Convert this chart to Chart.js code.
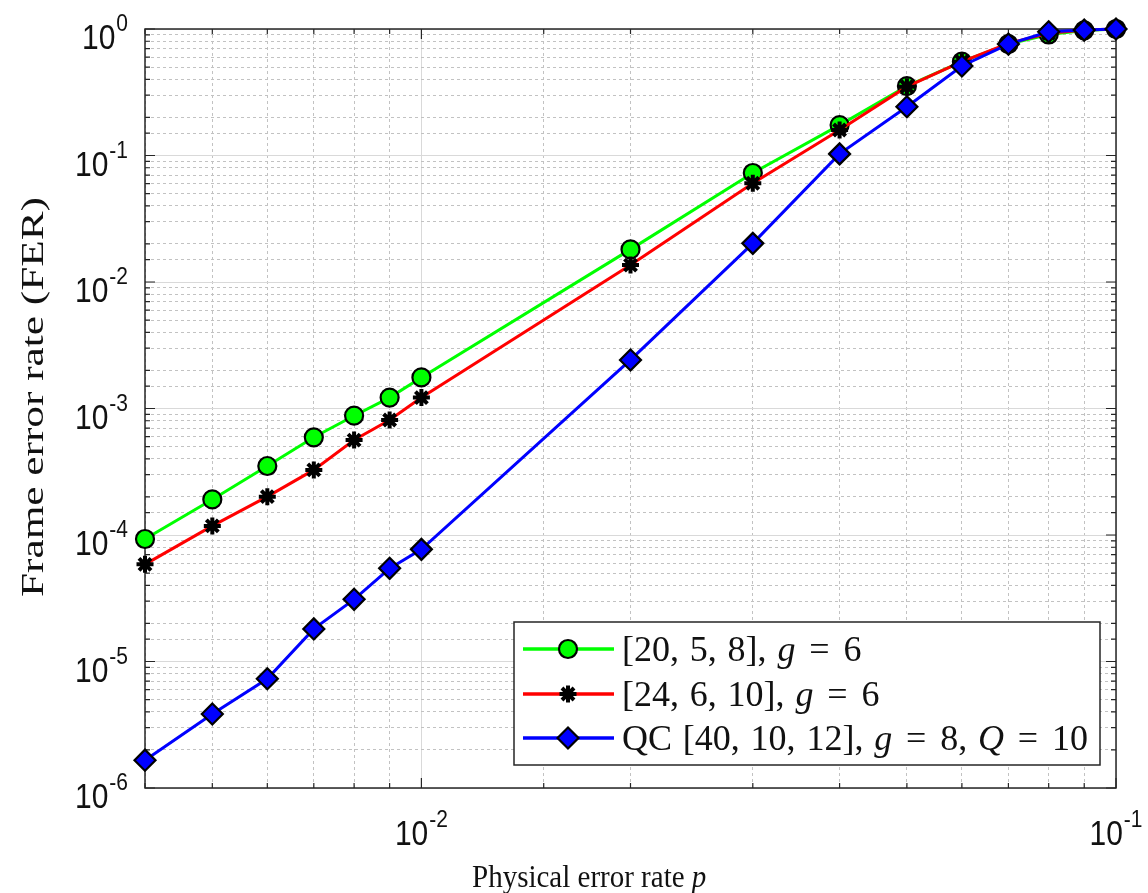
<!DOCTYPE html>
<html>
<head>
<meta charset="utf-8">
<script src="https://cdn.jsdelivr.net/npm/chart.js@4.4.1/dist/chart.umd.min.js"></script>
<style>
html,body{margin:0;padding:0;background:#fff;overflow:hidden}
canvas{display:block}
</style>
</head>
<body>
<canvas id="c" width="1148" height="893"></canvas>
<script>
// ---- data ----
const errorRates = [0.004, 0.005, 0.006, 0.007, 0.008, 0.009, 0.01, 0.02, 0.03, 0.04, 0.05, 0.06, 0.07, 0.08, 0.09, 0.1];
const ferCode20 = [9.3e-5, 1.91e-4, 3.51e-4, 5.92e-4, 8.77e-4, 1.22e-3, 1.76e-3, 0.0181, 0.0727, 0.174, 0.354, 0.552, 0.76, 0.905, 0.975, 1.0];
const ferCode24 = [5.86e-5, 1.18e-4, 2.01e-4, 3.27e-4, 5.63e-4, 8.11e-4, 1.22e-3, 0.0136, 0.0603, 0.159, 0.35, 0.552, 0.77, 0.925, 0.98, 1.0];
const ferQC40 = [1.66e-6, 3.85e-6, 7.3e-6, 1.81e-5, 3.1e-5, 5.45e-5, 7.7e-5, 2.42e-3, 0.0202, 0.103, 0.243, 0.51, 0.76, 0.95, 0.98, 1.0];

const xTickValues = [0.01, 0.1];
const xTickExponents = ['-2', '-1'];
const yTickValues = [1e-6, 1e-5, 1e-4, 1e-3, 1e-2, 1e-1, 1];
const yTickExponents = ['-6', '-5', '-4', '-3', '-2', '-1', '0'];

const legendCode20 = [['[20, 5, 8], ', false], ['g', true], [' = 6', false]];
const legendCode24 = [['[24, 6, 10], ', false], ['g', true], [' = 6', false]];
const legendQC40 = [['QC [40, 10, 12], ', false], ['g', true], [' = 8, ', false], ['Q', true], [' = 10', false]];

const xTitleParts = [['Physical error rate ', false], ['p', true]];
const yTitle = 'Frame error rate (FER)';

// ---- helpers ----
const isDecade = v => Math.abs(Math.log10(v) - Math.round(Math.log10(v))) < 1e-6;
const TEXT = '#111111';
const SERIF = '"Liberation Serif", "Times New Roman", serif';

function drawPow(ctx, base, exp, x, y, align) {
  const baseFont = '30px "Liberation Sans", Arial, sans-serif';
  const supFont = '21px "Liberation Sans", Arial, sans-serif';
  ctx.font = baseFont;
  const wb = ctx.measureText(base).width;
  ctx.font = supFont;
  const we = ctx.measureText(exp).width;
  const total = wb + we + 1;
  const left = align === 'right' ? x - total : x - total / 2;
  ctx.fillStyle = TEXT;
  ctx.textAlign = 'left';
  ctx.textBaseline = 'alphabetic';
  ctx.save();
  ctx.translate(left, y);
  ctx.scale(1, 1.15);
  ctx.font = baseFont;
  ctx.fillText(base, 0, 0);
  ctx.restore();
  ctx.save();
  ctx.translate(left + wb + 1, y - 18);
  ctx.scale(1, 1.15);
  ctx.font = supFont;
  ctx.fillText(exp, 0, 0);
  ctx.restore();
}

// draws mixed roman/italic text with TeX-like spacing (wider around "=")
function drawParts(ctx, parts, x, y, size, texLike) {
  let cx = x;
  ctx.textAlign = 'left';
  ctx.textBaseline = 'alphabetic';
  ctx.fillStyle = TEXT;
  for (const [t, it] of parts) {
    ctx.font = (it ? 'italic ' : '') + size + 'px ' + SERIF;
    if (!texLike) {
      ctx.fillText(t, cx, y);
      cx += ctx.measureText(t).width;
      continue;
    }
    for (const ch of t) {
      if (ch === ' ') { cx += 0.3 * size; continue; }
      if (ch === '=') cx += 0.085 * size;
      ctx.fillText(ch, cx, y);
      cx += ctx.measureText(ch).width;
      if (ch === '=') cx += 0.085 * size;
    }
  }
}

const matlabLook = {
  id: 'matlabLook',
  beforeDraw(chart) {
    const ctx = chart.ctx;
    ctx.save();
    ctx.fillStyle = '#ffffff';
    ctx.fillRect(0, 0, chart.width, chart.height);
    ctx.restore();
  },
  beforeDatasetsDraw(chart) {
    const ctx = chart.ctx;
    const a = chart.chartArea;
    const xs = chart.scales.x, ys = chart.scales.y;
    ctx.save();
    ctx.strokeStyle = '#262626';
    ctx.lineWidth = 1.5;
    ctx.strokeRect(a.left, a.top, a.right - a.left, a.bottom - a.top);
    ctx.lineWidth = 1.2;
    ctx.beginPath();
    for (const t of xs.ticks) {
      const px = xs.getPixelForValue(t.value);
      const len = isDecade(t.value) ? 10 : 5;
      ctx.moveTo(px, a.bottom); ctx.lineTo(px, a.bottom - len);
      ctx.moveTo(px, a.top); ctx.lineTo(px, a.top + len);
    }
    for (const t of ys.ticks) {
      const py = ys.getPixelForValue(t.value);
      const len = isDecade(t.value) ? 10 : 5;
      ctx.moveTo(a.left, py); ctx.lineTo(a.left + len, py);
      ctx.moveTo(a.right, py); ctx.lineTo(a.right - len, py);
    }
    ctx.stroke();
    ctx.restore();
  },
  afterDatasetsDraw(chart) {
    const ctx = chart.ctx;
    // legend box
    const bx = 514, by = 622, bw = 586, bh = 143;
    ctx.save();
    ctx.fillStyle = '#ffffff';
    ctx.fillRect(bx, by, bw, bh);
    ctx.strokeStyle = '#262626';
    ctx.lineWidth = 1.5;
    ctx.strokeRect(bx, by, bw, bh);
    const rows = [649, 694, 738];
    const texts = [legendCode20, legendCode24, legendQC40];
    chart.data.datasets.forEach((ds, i) => {
      const ry = rows[i];
      ctx.strokeStyle = ds.borderColor;
      ctx.lineWidth = 3.5;
      ctx.beginPath();
      ctx.moveTo(523, ry); ctx.lineTo(614, ry);
      ctx.stroke();
      ctx.fillStyle = ds.pointBackgroundColor;
      ctx.strokeStyle = ds.pointBorderColor;
      ctx.lineWidth = ds.pointBorderWidth;
      Chart.helpers.drawPoint(ctx, {pointStyle: ds.pointStyle, radius: ds.pointRadius, rotation: 0, borderWidth: ds.pointBorderWidth}, 568, ry);
      drawParts(ctx, texts[i], 622, ry + 12, 36, true);
    });
    ctx.restore();
  },
  afterDraw(chart) {
    const ctx = chart.ctx;
    const a = chart.chartArea;
    const xs = chart.scales.x, ys = chart.scales.y;
    ctx.save();
    yTickValues.forEach((v, i) => {
      const py = ys.getPixelForValue(v);
      drawPow(ctx, '10', yTickExponents[i], 128, py + 20, 'right');
    });
    xTickValues.forEach((v, i) => {
      const px = xs.getPixelForValue(v);
      drawPow(ctx, '10', xTickExponents[i], px, a.bottom + 57, 'center');
    });
    // x title
    ctx.save();
    ctx.translate(472, 887);
    ctx.scale(1, 1.1);
    drawParts(ctx, xTitleParts, 0, 0, 29, false);
    ctx.restore();
    // y title
    ctx.save();
    ctx.translate(43, 397);
    ctx.rotate(-Math.PI / 2);
    ctx.font = '31px ' + SERIF;
    const w = ctx.measureText(yTitle).width;
    ctx.scale(400 / w, 1);
    ctx.textAlign = 'center';
    ctx.textBaseline = 'alphabetic';
    ctx.fillStyle = TEXT;
    ctx.fillText(yTitle, 0, 0);
    ctx.restore();
    ctx.restore();
  }
};

const gridOpts = {
  drawTicks: false,
  lineWidth: 1,
  color: c => (c.tick && isDecade(c.tick.value)) ? '#d9d9d9' : '#c2c2c2'
};
const borderOpts = {
  display: false,
  dash: c => (c.tick && !isDecade(c.tick.value)) ? [3, 3] : []
};

new Chart(document.getElementById('c'), {
  type: 'line',
  data: {
    labels: errorRates,
    datasets: [
      {
        label: 'code20', data: errorRates.map((p, i) => ({x: p, y: ferCode20[i]})),
        borderColor: '#00ff00', borderWidth: 3,
        pointStyle: 'circle', pointRadius: 9, pointBackgroundColor: '#00ff00',
        pointBorderColor: '#000000', pointBorderWidth: 2.2, order: 3, clip: false
      },
      {
        label: 'code24', data: errorRates.map((p, i) => ({x: p, y: ferCode24[i]})),
        borderColor: '#ff0000', borderWidth: 3,
        pointStyle: 'star', pointRadius: 8.5, pointBackgroundColor: '#000000',
        pointBorderColor: '#000000', pointBorderWidth: 4, order: 2, clip: false
      },
      {
        label: 'qc40', data: errorRates.map((p, i) => ({x: p, y: ferQC40[i]})),
        borderColor: '#0000ff', borderWidth: 3,
        pointStyle: 'rectRot', pointRadius: 10.5, pointBackgroundColor: '#0000ff',
        pointBorderColor: '#000000', pointBorderWidth: 2.2, order: 1, clip: false
      }
    ]
  },
  options: {
    responsive: false,
    animation: false,
    events: [],
    layout: {padding: {left: 0, top: 29, right: 32, bottom: 0}},
    plugins: {legend: {display: false}, tooltip: {enabled: false}},
    elements: {line: {tension: 0}},
    scales: {
      x: {
        type: 'logarithmic', min: 0.004, max: 0.1, position: 'bottom',
        ticks: {display: false, autoSkip: false},
        grid: gridOpts, border: borderOpts,
        afterFit: s => { s.height = 105; }
      },
      y: {
        type: 'logarithmic', min: 1e-6, max: 1, position: 'left',
        ticks: {display: false, autoSkip: false},
        grid: gridOpts, border: borderOpts,
        afterFit: s => { s.width = 145; }
      }
    }
  },
  plugins: [matlabLook]
});
</script>
</body>
</html>
